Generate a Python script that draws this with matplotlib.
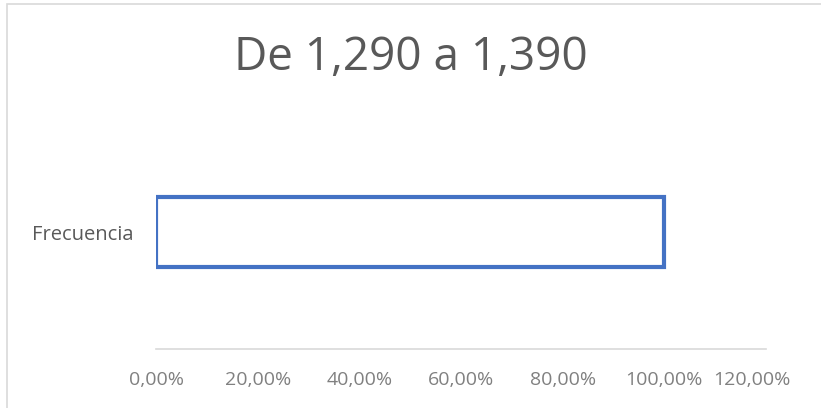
import matplotlib.pyplot as plt
import matplotlib.transforms as mtransforms
from matplotlib.patches import Rectangle

# Datos
categorias = ['Frecuencia']
valores = [1.0]
ticks = [0, 0.2, 0.4, 0.6, 0.8, 1.0, 1.2]
etiquetas = ['0,00%', '20,00%', '40,00%', '60,00%', '80,00%', '100,00%', '120,00%']

plt.rcParams['font.family'] = ['Open Sans', 'DejaVu Sans']

fig = plt.figure(figsize=(8.21, 4.08), dpi=100)
# borde del area del grafico (recortado a la derecha y abajo)
fig.patches.append(Rectangle((7 / 821, -0.1), 1.0, 1.1 - 4 / 408, transform=fig.transFigure,
                             fill=False, edgecolor='#d9d9d9', linewidth=1.2))
ax = fig.add_axes([156 / 821, 1 - 349 / 408, 610 / 821, 234 / 408])

ax.barh(categorias, valores, height=0.30, color='white', edgecolor='#4472c4', linewidth=3)
ax.set_xlim(0, 1.2)
ax.set_ylim(-0.5, 0.5)
ax.set_xticks(ticks)
ax.set_xticklabels(etiquetas, color='#808080', fontsize=14)
ax.tick_params(axis='x', length=0, pad=16)
ax.tick_params(axis='y', length=0, pad=16, labelcolor='#595959', labelsize=14.5)
for s in ['top', 'right', 'left']:
    ax.spines[s].set_visible(False)
ax.spines['bottom'].set_color('#d9d9d9')
ax.spines['bottom'].set_linewidth(1.2)

# la ultima etiqueta se desplaza a la izquierda para caber
ultima = ax.get_xticklabels()[-1]
ultima.set_transform(ultima.get_transform() +
                     mtransforms.ScaledTranslation(-14 / 100, 0, fig.dpi_scale_trans))

fig.text(0.5, 1 - 70 / 408, 'De 1,290 a 1,390', ha='center', va='baseline',
         fontsize=33, color='#595959')

fig.savefig('out.png', dpi=100)
